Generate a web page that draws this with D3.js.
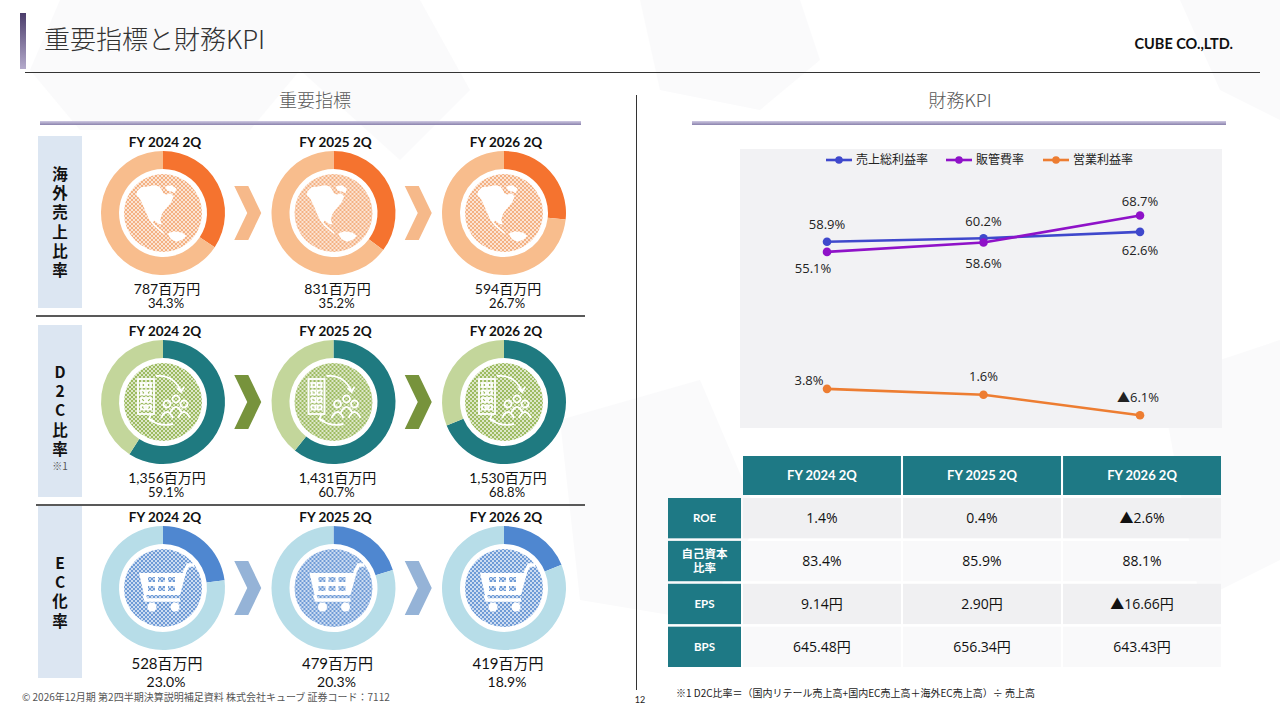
<!DOCTYPE html>
<html><head><meta charset="utf-8">
<script src="https://cdn.jsdelivr.net/npm/d3@7"></script>
<style>
html,body{margin:0;padding:0;background:#fff;}
svg{display:block;}
text{font-family:Lato,"Noto Sans CJK JP",sans-serif;}
.vert{writing-mode:vertical-rl;text-orientation:upright;}
</style></head>
<body>
<svg id="c" width="1280" height="720"></svg>
<script>
// ---------- DATA ----------
const periods = ["FY 2024 2Q", "FY 2025 2Q", "FY 2026 2Q"];
const overseasAmount = ["787", "831", "594"];
const overseasRatio = [34.3, 35.2, 26.7];
const d2cAmount = ["1,356", "1,431", "1,530"];
const d2cRatio = [59.1, 60.7, 68.8];
const ecAmount = ["528", "479", "419"];
const ecRatio = [23.0, 20.3, 18.9];
const rowLabels = ["海外売上比率", "D2C比率", "EC化率"];

const seriesNames = ["売上総利益率", "販管費率", "営業利益率"];
const grossMargin = [58.9, 60.2, 62.6];
const sgaRatio = [55.1, 58.6, 68.7];
const operatingMargin = [3.8, 1.6, -6.1];

const tableRowNames = ["ROE", "自己資本\n比率", "EPS", "BPS"];
const roeValues = ["1.4%", "0.4%", "▲2.6%"];
const equityRatioValues = ["83.4%", "85.9%", "88.1%"];
const epsValues = ["9.14円", "2.90円", "▲16.66円"];
const bpsValues = ["645.48円", "656.34円", "643.43円"];

const fmtPct = v => (v < 0 ? "▲" + Math.abs(v).toFixed(1) : v.toFixed(1)) + "%";

// ---------- SETUP ----------
const svg = d3.select("#c");
const defs = svg.append("defs");
const FONT_JP = '"Noto Sans CJK JP",sans-serif';

// background faint shapes
const bg = svg.append("g");
[
  [[60,0],[230,0],[300,70],[250,130],[80,130],[30,70]],
  [[230,0],[420,0],[470,90],[400,160],[300,70]],
  [[640,0],[800,0],[820,60],[760,110],[660,90]],
  [[560,420],[700,380],[760,520],[700,620],[580,600]],
  [[1160,380],[1280,340],[1280,560],[1200,600]],
  [[1180,0],[1280,0],[1280,120],[1220,90]]
].forEach(p => bg.append("polygon").attr("points", p.join(" ")).attr("fill", "#f6f6f8").attr("opacity", 0.5));

// title
const tg = defs.append("linearGradient").attr("id","tbar").attr("x1",0).attr("y1",0).attr("x2",0).attr("y2",1);
tg.append("stop").attr("offset","0%").attr("stop-color","#4b3d6b");
tg.append("stop").attr("offset","100%").attr("stop-color","#b4aacb");
svg.append("rect").attr("x",20).attr("y",13).attr("width",6).attr("height",56).attr("fill","url(#tbar)");
svg.append("text").attr("x",44).attr("y",49).attr("font-size",26).attr("font-weight",300)
  .attr("fill","#333").style("font-family",FONT_JP).text("重要指標と財務KPI");
svg.append("text").attr("x",1233).attr("y",49).attr("text-anchor","end").attr("font-size",14.5)
  .attr("font-weight",700).attr("fill","#111").text("CUBE CO.,LTD.");
svg.append("line").attr("x1",25).attr("x2",1260).attr("y1",72.5).attr("y2",72.5).attr("stroke","#333").attr("stroke-width",1.2);

// section headers
const ug = defs.append("linearGradient").attr("id","ubar").attr("x1",0).attr("y1",0).attr("x2",0).attr("y2",1);
ug.append("stop").attr("offset","0%").attr("stop-color","#cfc9e2");
ug.append("stop").attr("offset","100%").attr("stop-color","#8a82ad");
[[315,40,581,"重要指標"],[960,692,1226,"財務KPI"]].forEach(([cx,x1,x2,t]) => {
  svg.append("text").attr("x",cx).attr("y",107).attr("text-anchor","middle").attr("font-size",18)
    .attr("font-weight",300).attr("fill","#595959").style("font-family",FONT_JP).text(t);
  svg.append("rect").attr("x",x1).attr("y",121).attr("width",x2-x1).attr("height",4).attr("fill","url(#ubar)");
});
svg.append("line").attr("x1",636.5).attr("x2",636.5).attr("y1",95).attr("y2",690).attr("stroke","#333").attr("stroke-width",1);

// ---------- LEFT: DONUT ROWS ----------
const rows = [
  {amount: overseasAmount, ratio: overseasRatio, cy: 213, top: 136, dark:"#f5732f", light:"#f8bd8d", hatch:"#f4b183", arrow:"#f6b98a", icon:"globe", labelStart: 174},
  {amount: d2cAmount, ratio: d2cRatio, cy: 402, top: 325, dark:"#1f7a80", light:"#c3d69b", hatch:"#9dbb61", arrow:"#77933c", icon:"d2c", labelStart: 372},
  {amount: ecAmount, ratio: ecRatio, cy: 588, top: 506, dark:"#4f87d0", light:"#b7dde8", hatch:"#6f9bd6", arrow:"#95b3d7", icon:"cart", labelStart: 563}
];
const xCol = d3.scalePoint().domain(periods).range([163, 504]);
const pie = d3.pie().sort(null).value(d => d);
const arc = d3.arc().innerRadius(44).outerRadius(62);
const LABEL_FS = 15.5, LABEL_STEP = 19.3;

rows.forEach((r, i) => {
  const pid = "hp" + i;
  const pat = defs.append("pattern").attr("id",pid).attr("width",4).attr("height",4).attr("patternUnits","userSpaceOnUse");
  pat.append("rect").attr("width",4).attr("height",4).attr("fill",r.hatch);
  pat.append("rect").attr("width",2).attr("height",2).attr("fill","#fff").attr("opacity",0.65);
  pat.append("rect").attr("x",2).attr("y",2).attr("width",2).attr("height",2).attr("fill","#fff").attr("opacity",0.65);

  // label box with vertical text
  svg.append("rect").attr("x",38).attr("y",r.top).attr("width",44).attr("height",172).attr("fill","#dce6f2");
  svg.append("text").attr("class","vert").attr("x",60).attr("y",r.labelStart - LABEL_FS/2)
    .attr("font-size",LABEL_FS).attr("font-weight",700).attr("fill","#111")
    .style("font-family",FONT_JP).style("letter-spacing",(LABEL_STEP - LABEL_FS) + "px")
    .text(rowLabels[i]);
  if (i === 1) {
    svg.append("text").attr("x",60).attr("y",r.labelStart + rowLabels[i].length*LABEL_STEP - 2).attr("dy","0.36em")
      .attr("text-anchor","middle").attr("font-size",10).attr("fill","#555").style("font-family",FONT_JP).text("※1");
  }

  periods.forEach((p, j) => {
    const cx = xCol(p);
    const g = svg.append("g").attr("transform", `translate(${cx},${r.cy})`);
    g.selectAll("path.seg").data(pie([r.ratio[j], 100 - r.ratio[j]])).join("path").attr("class","seg")
      .attr("d", arc).attr("fill", (d, k) => k === 0 ? r.dark : r.light);
    g.append("circle").attr("r",39).attr("fill",`url(#${pid})`);
    drawIcon(g, r.icon, r.hatch, pid);
    svg.append("text").attr("x",cx + 2).attr("y",r.cy - 71).attr("dy","0.36em").attr("text-anchor","middle")
      .attr("font-size",13.5).attr("font-weight",700).attr("fill","#111").text(p);
    svg.append("text").attr("x",cx + 4).attr("y",r.cy + 76).attr("dy","0.36em").attr("text-anchor","middle")
      .attr("font-size",i===2?15:14).attr("fill","#111").style("font-family",'Lato,"Noto Sans CJK JP"').text(r.amount[j] + "百万円");
    svg.append("text").attr("x",cx + 3).attr("y",r.cy + (i===2?94:90)).attr("dy","0.36em").attr("text-anchor","middle")
      .attr("font-size",i===2?14:13).attr("fill","#111").text(fmtPct(r.ratio[j]));
    if (j < periods.length - 1) {
      const ax = (xCol(p) + xCol(periods[j+1])) / 2 - 1;
      svg.append("path").attr("transform",`translate(${ax},${r.cy})`)
        .attr("d","M-13,-27 L1,-27 L14,0 L1,27 L-13,27 L0,0 Z").attr("fill", r.arrow);
    }
  });
  if (i < 2) {
    svg.append("line").attr("x1",36).attr("x2",585).attr("y1",r.top + 180).attr("y2",r.top + 180)
      .attr("stroke","#595959").attr("stroke-width",2);
  }
});

function drawIcon(g, type, col, pid) {
  if (type === "globe") {
    g.append("path").attr("fill","#fff").attr("d",
      "M-26,-21.8 L-22,-25.8 L-15.3,-26.5 L-8.7,-27.8 L-3.7,-26.5 L-1.3,-23.2 L0.7,-19.2 L4,-18.5 L7.3,-19.8 L10.7,-16.5 " +
      "L8,-10.5 L4.7,-6.5 L1.3,-2.5 L-1.3,1.5 L-2.7,6.8 L-1.3,10.8 L-2.7,11.5 L-5.3,10.2 L-8.7,7.5 L-10,9.5 L-5.3,14.2 " +
      "L-1.3,17.5 L1.3,20.2 L0,20.8 L-4.7,16.8 L-9.3,12.8 L-13.3,7.5 L-16.7,0.2 L-20,-7.8 L-23.3,-14.5 L-26.7,-17.8 Z");
    g.append("path").attr("fill","#fff").attr("d",
      "M2,-26.5 L8.7,-27.8 L13.3,-24.5 L12,-19.8 L8,-21.8 L4,-22.5 Z");
    g.append("path").attr("fill","#fff").attr("d",
      "M4.7,20.8 L10.7,18.2 L18.7,19.5 L23.3,22.8 L20,26.2 L14,28.8 L8,26.2 Z");
  } else if (type === "cart") {
    g.append("path").attr("fill","#fff").attr("d","M-24,-15 L23,-15 L17,7 L-19,7 Z");
    for (let a = 0; a < 3; a++) for (let b = 0; b < 2; b++) {
      g.append("rect").attr("x",-15 + a*10).attr("y",-11 + b*9).attr("width",7).attr("height",5).attr("fill",`url(#${pid})`);
    }
    g.append("path").attr("fill","none").attr("stroke","#fff").attr("stroke-width",3.5)
      .attr("d","M21,-15 L25,-23 L31,-23 M-19,7 L-17,12 L17,12");
    g.append("circle").attr("cx",-11).attr("cy",19).attr("r",4.5).attr("fill","#fff");
    g.append("circle").attr("cx",12).attr("cy",19).attr("r",4.5).attr("fill","#fff");
  } else {
    const s = g.append("g").attr("fill","none").attr("stroke","#fff").attr("stroke-width",1.8);
    s.append("rect").attr("x",-25).attr("y",-23).attr("width",16).attr("height",35);
    for (let a = 0; a < 2; a++) for (let b = 0; b < 4; b++)
      s.append("rect").attr("x",-22 + a*6).attr("y",-19 + b*7.5).attr("width",4).attr("height",4);
    s.append("path").attr("d","M-7,-26 Q10,-28 18,-11");
    s.append("path").attr("d","M14,-14 L18,-10 L21,-15");
    s.append("path").attr("d","M-14,17 Q-4,25 10,22");
    s.append("path").attr("d","M-12,12 L-14,17 L-9,19");
    [[4,2],[13,-3],[21,2]].forEach(([x,y]) => {
      s.append("circle").attr("cx",x).attr("cy",y).attr("r",3.5);
      s.append("path").attr("d",`M${x-6},${y+14} Q${x},${y+2} ${x+6},${y+14}`);
    });
  }
}

// ---------- RIGHT: LINE CHART ----------
svg.append("rect").attr("x",740).attr("y",149).attr("width",482).attr("height",279).attr("fill","#f2f2f4");
const x = d3.scalePoint().domain(periods).range([827, 1140]);
const y = d3.scaleLinear().domain([-10, 80]).range([425.7, 185.4]);
const series = [
  {name: seriesNames[0], values: grossMargin, color:"#3f48cc", offs:[[0,-17],[0,-17],[0,18]]},
  {name: seriesNames[1], values: sgaRatio, color:"#8f12c8", offs:[[-14,16],[0,21],[0,-14]]},
  {name: seriesNames[2], values: operatingMargin, color:"#ed7d31", offs:[[-18,-9],[0,-18],[-2,-18]]}
];
const line = d3.line().x((d, i) => x(periods[i])).y(d => y(d));
series.forEach(s => {
  svg.append("path").datum(s.values).attr("d", line).attr("fill","none").attr("stroke",s.color).attr("stroke-width",2.6);
  svg.selectAll(null).data(s.values).join("circle").attr("cx",(d,i)=>x(periods[i])).attr("cy",d=>y(d))
    .attr("r",4.3).attr("fill",s.color);
  svg.selectAll(null).data(s.values).join("text")
    .attr("x",(d,i)=>x(periods[i]) + s.offs[i][0]).attr("y",(d,i)=>y(d) + s.offs[i][1]).attr("dy","0.36em")
    .attr("text-anchor","middle").attr("font-size",13).attr("fill","#222")
    .style("font-family",'"Open Sans","Noto Sans CJK JP",sans-serif')
    .text(d => fmtPct(d));
});
// legend
const legX = [826, 946, 1043];
series.forEach((s, i) => {
  const lg = svg.append("g").attr("transform",`translate(${legX[i]},160)`);
  lg.append("line").attr("x1",0).attr("x2",26).attr("stroke",s.color).attr("stroke-width",2.6);
  lg.append("circle").attr("cx",13).attr("r",3.8).attr("fill",s.color);
  lg.append("text").attr("x",30).attr("dy","0.36em").attr("font-size",12).attr("fill","#222")
    .style("font-family",FONT_JP).text(s.name);
});

// ---------- RIGHT: TABLE ----------
const colX = d3.scaleBand().domain(periods).range([743, 1221]).paddingInner(0.013);
const rowY = d3.scaleBand().domain(tableRowNames).range([498, 667]).paddingInner(0.06);
const tableValues = [roeValues, equityRatioValues, epsValues, bpsValues];
const TEAL = "#1e7985";
periods.forEach(p => {
  svg.append("rect").attr("x",colX(p)).attr("y",456).attr("width",colX.bandwidth()).attr("height",39).attr("fill",TEAL);
  svg.append("text").attr("x",colX(p) + colX.bandwidth()/2).attr("y",475.5).attr("dy","0.36em").attr("text-anchor","middle")
    .attr("font-size",13).attr("font-weight",700).attr("fill","#fff").text(p);
});
tableRowNames.forEach((rn, i) => {
  svg.append("rect").attr("x",668).attr("y",rowY(rn)).attr("width",73).attr("height",rowY.bandwidth()).attr("fill",TEAL);
  const lines = rn.split("\n");
  const lt = svg.append("text").attr("text-anchor","middle").attr("font-size",11.5).attr("font-weight",700)
    .attr("fill","#fff").style("font-family",'Lato,"Noto Sans CJK JP"');
  lines.forEach((ln, k) => {
    lt.append("tspan").attr("x",704.5).attr("y",rowY(rn) + rowY.bandwidth()/2 + (k - (lines.length-1)/2) * 14 + 4).text(ln);
  });
  periods.forEach((p, j) => {
    svg.append("rect").attr("x",colX(p)).attr("y",rowY(rn)).attr("width",colX.bandwidth()).attr("height",rowY.bandwidth())
      .attr("fill", i % 2 === 0 ? "#f0f0f2" : "#f9f9fa");
    svg.append("text").attr("x",colX(p) + colX.bandwidth()/2).attr("y",rowY(rn) + rowY.bandwidth()/2).attr("dy","0.36em")
      .attr("text-anchor","middle").attr("font-size",14).attr("fill","#111")
      .style("font-family",'"Open Sans","Noto Sans CJK JP"').text(tableValues[i][j]);
  });
});

// ---------- FOOTNOTES ----------
svg.append("text").attr("x",676).attr("y",693).attr("dy","0.36em").attr("font-size",10).attr("fill","#222")
  .style("font-family",FONT_JP).text("※1 D2C比率＝（国内リテール売上高+国内EC売上高＋海外EC売上高）÷ 売上高");
svg.append("text").attr("x",22).attr("y",697).attr("dy","0.36em").attr("font-size",10).attr("fill","#555")
  .style("font-family",FONT_JP).text("© 2026年12月期 第2四半期決算説明補足資料 株式会社キューブ 証券コード：7112");
svg.append("text").attr("x",640).attr("y",700).attr("dy","0.36em").attr("text-anchor","middle").attr("font-size",9).attr("fill","#222").text("12");
</script>
</body></html>
